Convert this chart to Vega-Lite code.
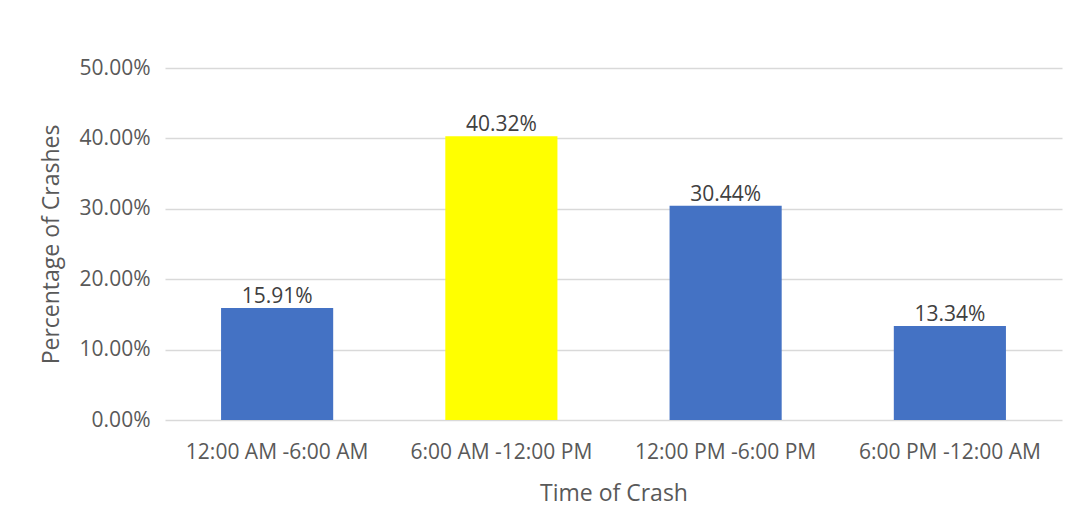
{
  "$schema": "https://vega.github.io/schema/vega-lite/v6.json",
  "autosize": {"type": "none"},
  "width": 897,
  "height": 352,
  "padding": {"left": 165, "top": 68, "right": 14, "bottom": 111},
  "background": "white",
  "config": {
    "view": {"stroke": null},
    "font": "Open Sans",
    "axis": {"labelColor": "#595959", "titleColor": "#595959", "labelFont": "Open Sans", "titleFont": "Open Sans", "labelFontSize": 21, "titleFontSize": 23, "titleFontWeight": "normal", "labelLimit": 0}
  },
  "data": {
    "values": [
      {"time": "12:00 AM -6:00 AM", "pct": 0.1591, "hl": "no"},
      {"time": "6:00 AM -12:00 PM", "pct": 0.4032, "hl": "yes"},
      {"time": "12:00 PM -6:00 PM", "pct": 0.3044, "hl": "no"},
      {"time": "6:00 PM -12:00 AM", "pct": 0.1334, "hl": "no"}
    ]
  },
  "encoding": {
    "x": {
      "field": "time", "type": "nominal", "sort": null,
      "scale": {"paddingInner": 0.5, "paddingOuter": 0.25},
      "axis": {"title": "Time of Crash", "labelAngle": 0, "ticks": false, "domain": false, "labelPadding": 21, "titlePadding": 20, "labelLimit": 0}
    },
    "y": {
      "field": "pct", "type": "quantitative",
      "scale": {"domain": [0, 0.5]},
      "axis": {"title": "Percentage of Crashes", "format": ".2%", "values": [0, 0.1, 0.2, 0.3, 0.4, 0.5], "ticks": false, "domain": false, "gridColor": "#d9d9d9", "gridWidth": 1.5, "labelPadding": 15, "titlePadding": 16}
    }
  },
  "layer": [
    {
      "mark": {"type": "bar"},
      "encoding": {
        "color": {"field": "hl", "type": "nominal", "scale": {"domain": ["no", "yes"], "range": ["#4472C4", "#FFFF00"]}, "legend": null}
      }
    },
    {
      "mark": {"type": "text", "baseline": "bottom", "dy": -1, "fontSize": 21, "color": "#404040", "font": "Open Sans"},
      "encoding": {"text": {"field": "pct", "type": "quantitative", "format": ".2%"}}
    }
  ]
}
